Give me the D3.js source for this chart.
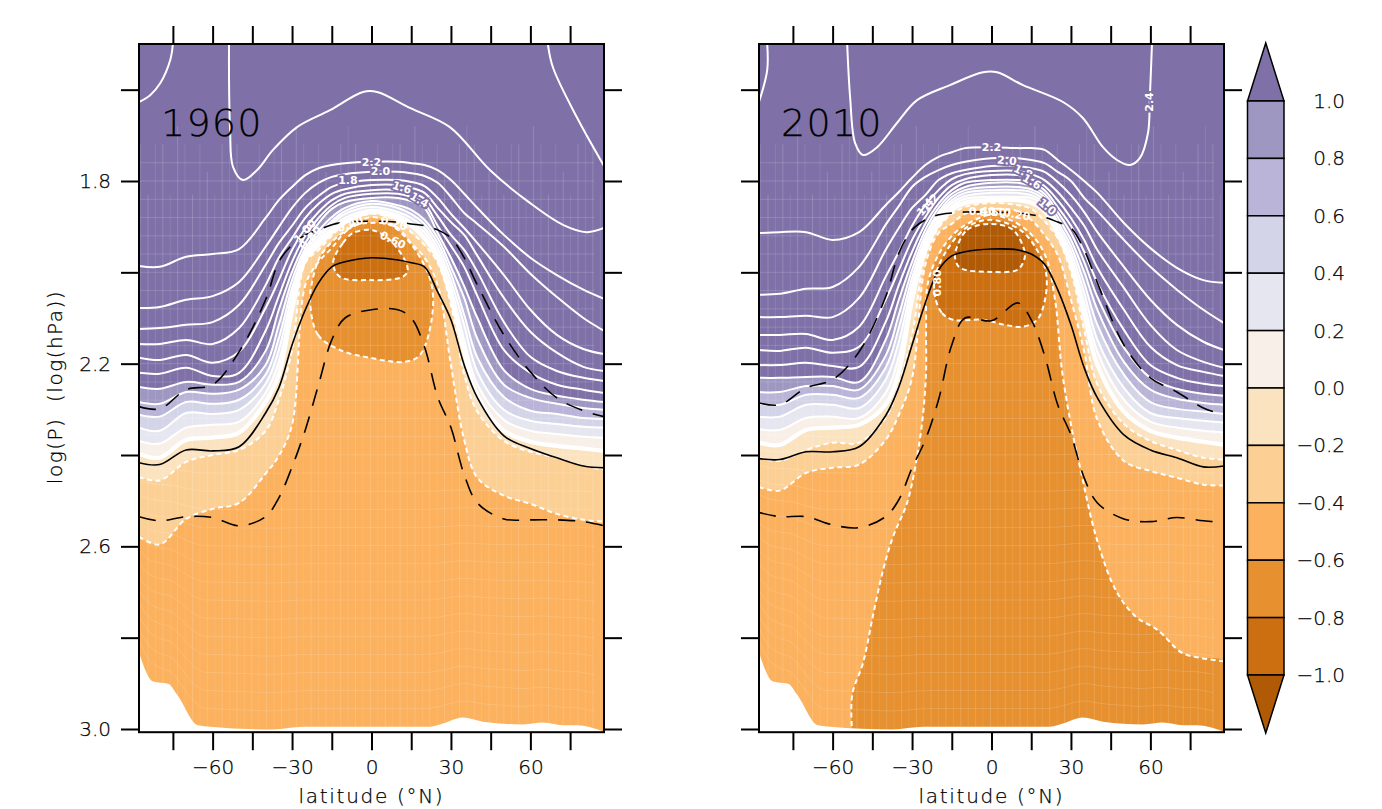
<!DOCTYPE html>
<html lang="en">
<head>
<meta charset="utf-8">
<title>log(P) cross sections 1960 and 2010</title>
<script src="https://d3js.org/d3.v7.min.js"></script>
<style>
    html, body { margin: 0; background: #fff; }
    text { font-family: "DejaVu Sans", sans-serif; font-weight: 200; fill: #000; stroke: #000; stroke-width: 0.25px; }
    .clabel { font-weight: 700; font-size: 11px; fill: #fff; stroke: none; text-anchor: middle; dominant-baseline: central; stroke-width: 3.5px; paint-order: stroke; }
</style>
</head>
<body>
<svg id="chart" width="1382" height="809"></svg>
<script>
// latitude columns shared by all the arch shaped contours
const lats = [-87.8,-80,-70,-60,-50,-40,-35,-30,-25,-20,-15,-10,0,10,15,20,25,30,35,40,50,60,70,80,87.8];

// 1960: log(P) of each contour level at the lats above
const a22 = [1.986,1.988,1.966,1.960,1.949,1.881,1.842,1.813,1.787,1.772,1.765,1.761,1.758,1.758,1.761,1.765,1.776,1.798,1.828,1.859,1.918,1.968,2.006,2.038,2.058];
const a20 = [2.078,2.076,2.060,2.052,2.021,1.944,1.901,1.859,1.826,1.804,1.791,1.785,1.780,1.780,1.783,1.789,1.804,1.835,1.870,1.894,1.944,2.003,2.054,2.100,2.128];
const a18 = [2.124,2.122,2.115,2.109,2.071,1.984,1.936,1.898,1.859,1.833,1.813,1.804,1.798,1.798,1.802,1.811,1.837,1.872,1.903,1.936,2.006,2.082,2.137,2.168,2.179];
const a16 = [2.157,2.157,2.148,2.157,2.122,2.028,1.968,1.925,1.881,1.850,1.828,1.818,1.809,1.809,1.815,1.826,1.859,1.890,1.918,1.964,2.056,2.130,2.176,2.207,2.216];
const a14 = [2.187,2.192,2.181,2.198,2.174,2.078,2.017,1.951,1.903,1.868,1.842,1.828,1.820,1.820,1.826,1.839,1.877,1.918,1.951,1.999,2.109,2.185,2.216,2.231,2.238];
const a12 = [2.220,2.222,2.209,2.227,2.220,2.128,2.052,1.977,1.920,1.881,1.853,1.837,1.828,1.828,1.835,1.850,1.898,1.942,1.988,2.052,2.170,2.220,2.246,2.257,2.264];
const a10 = [2.251,2.255,2.240,2.246,2.240,2.172,2.082,1.999,1.936,1.892,1.861,1.846,1.837,1.837,1.844,1.859,1.914,1.968,2.030,2.100,2.214,2.255,2.270,2.279,2.284];
const a08 = [2.284,2.288,2.262,2.266,2.257,2.203,2.115,2.017,1.947,1.909,1.879,1.859,1.844,1.853,1.863,1.885,1.925,1.988,2.056,2.146,2.246,2.275,2.288,2.297,2.301];
const a06 = [2.312,2.316,2.284,2.288,2.279,2.224,2.144,2.034,1.955,1.918,1.888,1.866,1.850,1.859,1.872,1.894,1.936,2.003,2.093,2.187,2.273,2.303,2.310,2.319,2.321];
const a04 = [2.340,2.347,2.308,2.310,2.301,2.244,2.170,2.049,1.962,1.925,1.894,1.872,1.857,1.868,1.881,1.903,1.947,2.019,2.115,2.218,2.301,2.325,2.332,2.338,2.340];
const a02 = [2.369,2.375,2.340,2.334,2.327,2.264,2.196,2.065,1.966,1.931,1.903,1.881,1.863,1.874,1.890,1.912,1.958,2.034,2.148,2.246,2.323,2.347,2.354,2.360,2.362];
const a00 = [2.397,2.406,2.367,2.362,2.351,2.284,2.224,2.082,1.971,1.940,1.912,1.890,1.868,1.881,1.898,1.925,1.968,2.052,2.174,2.270,2.347,2.371,2.380,2.386,2.391];
const am2 = [2.448,2.456,2.415,2.400,2.389,2.347,2.279,2.170,1.979,1.951,1.920,1.894,1.872,1.888,1.912,1.940,1.979,2.071,2.224,2.305,2.369,2.393,2.406,2.424,2.432];
const am4 = [2.579,2.596,2.540,2.518,2.505,2.441,2.402,2.334,2.028,1.977,1.947,1.912,1.879,1.903,1.936,1.968,2.028,2.203,2.367,2.450,2.489,2.507,2.529,2.542,2.546];
const aSolid = [2.417,2.421,2.389,2.391,2.382,2.308,2.253,2.159,2.082,2.023,1.988,1.977,1.968,1.973,1.979,1.988,2.043,2.104,2.203,2.275,2.358,2.386,2.406,2.424,2.428];
const aDashUp = [2.294,2.299,2.257,2.246,2.174,2.060,1.977,1.940,1.918,1.907,1.896,1.890,1.888,1.890,1.894,1.898,1.907,1.925,1.968,2.028,2.137,2.218,2.275,2.303,2.316];
const aDashLow = [2.535,2.544,2.535,2.537,2.555,2.535,2.494,2.426,2.345,2.246,2.148,2.100,2.082,2.082,2.100,2.163,2.273,2.340,2.443,2.505,2.540,2.542,2.542,2.546,2.555];
// 1960 contours that do not fit the columns: [lat, logP]
const a24 = [[-53.8,1.500],[-53.8,1.579],[-53.4,1.688],[-52.3,1.769],[-48.5,1.798],[-43.2,1.776],[-37.2,1.732],[-28.1,1.682],[-15.7,1.645],[-3.2,1.605],[2.1,1.605],[14.5,1.640],[29.6,1.682],[44.7,1.776],[59.8,1.848],[72.3,1.896],[81.3,1.912],[87.8,1.903]];
const a26w = [[-75,1.500],[-76,1.535],[-79.8,1.586],[-83.6,1.612],[-87.8,1.627]];
const a26e = [[66.6,1.500],[68.5,1.551],[77.5,1.660],[87.8,1.767]];
const am6 = [[-23.2,2.067],[-20.2,2.137],[-11.9,2.170],[-0.6,2.187],[12.6,2.196],[18.3,2.181],[22.8,2.100],[22.5,2.023],[15.7,1.944],[7,1.896],[-0.6,1.892],[-5.5,1.896],[-13,1.923],[-19.4,1.966],[-22.5,2.023]];
const am8 = [[-14.5,1.979],[-10.8,1.936],[-7,1.914],[-0.6,1.907],[3.2,1.914],[8.1,1.936],[13.4,1.984],[13.4,2.001],[10.8,2.012],[-0.6,2.017],[-11.9,2.010]];

// 2010
const b22 = [1.914,1.912,1.912,1.929,1.912,1.853,1.824,1.793,1.765,1.747,1.737,1.728,1.726,1.728,1.728,1.732,1.754,1.776,1.800,1.826,1.892,1.947,1.990,2.017,2.023];
const b20 = [2.049,2.047,2.036,2.032,1.988,1.896,1.855,1.813,1.791,1.776,1.765,1.758,1.750,1.750,1.754,1.761,1.780,1.800,1.837,1.866,1.929,1.988,2.038,2.082,2.111];
const b18 = [2.098,2.098,2.095,2.098,2.056,1.951,1.903,1.859,1.831,1.798,1.783,1.776,1.767,1.767,1.772,1.780,1.802,1.831,1.868,1.912,1.988,2.060,2.115,2.152,2.170];
const b16 = [2.137,2.137,2.135,2.148,2.119,2.010,1.955,1.898,1.853,1.820,1.796,1.785,1.778,1.778,1.785,1.798,1.824,1.859,1.898,1.951,2.034,2.115,2.170,2.196,2.209];
const b14 = [2.170,2.172,2.165,2.176,2.163,2.060,1.995,1.929,1.879,1.837,1.809,1.796,1.787,1.787,1.796,1.811,1.842,1.881,1.929,1.990,2.082,2.163,2.203,2.218,2.227];
const b12 = [2.203,2.203,2.198,2.205,2.207,2.109,2.028,1.955,1.894,1.850,1.820,1.804,1.798,1.798,1.804,1.820,1.857,1.898,1.955,2.023,2.126,2.203,2.231,2.244,2.249];
const b10 = [2.231,2.231,2.229,2.229,2.240,2.148,2.060,1.977,1.907,1.859,1.828,1.813,1.804,1.804,1.811,1.828,1.868,1.914,1.977,2.054,2.165,2.231,2.255,2.266,2.270];
const b08 = [2.262,2.262,2.249,2.249,2.257,2.183,2.093,1.995,1.918,1.868,1.835,1.820,1.813,1.813,1.818,1.835,1.879,1.929,1.999,2.082,2.196,2.257,2.277,2.286,2.290];
const b06 = [2.288,2.290,2.268,2.268,2.275,2.209,2.122,2.012,1.927,1.874,1.842,1.826,1.820,1.820,1.824,1.842,1.890,1.942,2.023,2.115,2.224,2.284,2.299,2.305,2.310];
const b04 = [2.316,2.316,2.290,2.290,2.297,2.235,2.152,2.028,1.936,1.881,1.848,1.833,1.826,1.826,1.831,1.848,1.898,1.955,2.045,2.148,2.253,2.308,2.319,2.325,2.329];
const b02 = [2.343,2.345,2.319,2.316,2.319,2.264,2.185,2.043,1.944,1.888,1.855,1.839,1.835,1.835,1.837,1.855,1.907,1.968,2.067,2.174,2.279,2.327,2.340,2.347,2.351];
const b00 = [2.373,2.378,2.345,2.340,2.334,2.290,2.218,2.060,1.953,1.894,1.863,1.848,1.842,1.842,1.848,1.866,1.916,1.982,2.093,2.203,2.305,2.347,2.362,2.371,2.378];
const bm2 = [2.406,2.413,2.389,2.373,2.373,2.319,2.246,2.137,1.964,1.903,1.872,1.857,1.848,1.853,1.861,1.888,1.925,1.999,2.126,2.246,2.332,2.369,2.389,2.406,2.410];
const bm4 = [2.470,2.478,2.439,2.428,2.421,2.367,2.312,2.231,1.984,1.914,1.894,1.872,1.861,1.866,1.885,1.918,1.962,2.060,2.174,2.323,2.413,2.435,2.450,2.465,2.467];
const bSolid = [2.408,2.410,2.393,2.393,2.382,2.314,2.251,2.159,2.067,1.995,1.964,1.955,1.949,1.951,1.960,1.982,2.038,2.115,2.209,2.275,2.356,2.389,2.406,2.426,2.424];
const bDashUp = [2.286,2.290,2.253,2.235,2.174,2.054,1.958,1.907,1.885,1.874,1.870,1.868,1.868,1.870,1.874,1.879,1.890,1.903,1.951,2.023,2.159,2.231,2.262,2.297,2.312];
const bDashLow = [2.526,2.535,2.535,2.553,2.559,2.535,2.498,2.428,2.367,2.279,2.159,2.100,2.106,2.067,2.104,2.181,2.290,2.356,2.450,2.505,2.540,2.546,2.537,2.544,2.548];
const b24 = [[-54.5,1.500],[-53.4,1.616],[-51.5,1.717],[-48.5,1.743],[-43.2,1.726],[-35.7,1.673],[-28.1,1.623],[-15.7,1.590],[-3.2,1.562],[2.1,1.562],[11.9,1.590],[27,1.627],[34.5,1.662],[42.1,1.726],[47.4,1.754],[52.3,1.765],[56,1.750],[59.1,1.695],[59.8,1.616],[60.6,1.500]];
const b26w = [[-84.7,1.500],[-84.7,1.557],[-87.8,1.627]];
const bm6 = [[-52.6,3.012],[-52.6,2.925],[-48.5,2.855],[-44.7,2.750],[-40.9,2.651],[-37.2,2.579],[-31.9,2.505],[-28.1,2.404],[-25.8,2.308],[-24.7,2.214],[-24.7,2.126],[-24,2.023],[-19.4,1.955],[-13,1.909],[-6.2,1.885],[-0.2,1.874],[7,1.885],[14.5,1.914],[20.2,1.962],[24,2.060],[26.6,2.214],[30.4,2.345],[33.4,2.426],[39.8,2.585],[47.4,2.701],[54.9,2.756],[62.5,2.782],[71.9,2.833],[78.7,2.844],[87.8,2.852]];
const bm8 = [[-21.3,2.054],[-18.7,2.089],[-14.5,2.104],[-3.2,2.104],[5.1,2.115],[11.9,2.119],[17.2,2.104],[20.2,2.060],[20.6,2.001],[17.2,1.951],[10.8,1.907],[-0.6,1.885],[-9.2,1.901],[-16.8,1.951],[-21.3,2.010]];
const bm10 = [[-13,1.944],[-9.2,1.907],[-0.6,1.894],[8.1,1.907],[12.6,1.958],[11.9,1.979],[9.6,1.995],[-0.6,1.999],[-11.9,1.990],[-13.8,1.966]];

// surface pressure, same for both panels
const ground = [[-87.8,2.833],[-82.5,2.896],[-76.8,2.901],[-73.4,2.925],[-65.5,2.992],[-60.9,2.995],[-37.2,3.001],[-25.8,2.995],[22.1,2.995],[27,2.988],[34.5,2.975],[42.1,2.984],[57.2,2.990],[64.7,2.986],[72.3,2.992],[77.5,2.992],[87.8,3.006]];

// contour labels: text, lat, logP, rotation, halo colour
const labels1960 = [["2.2",0,1.759,0,1],["2.0",3.4,1.780,0,1],["1.8",-8.9,1.798,0,1],["1.6",11.5,1.815,18,1],["1.4",18,1.842,30,1],
    ["1.00",-25,1.91,-48,0],["0.80",-23,1.925,-48,0],["0.40",-8,1.895,-20,0],["0.20",8.5,1.893,15,0],["0.60",8,1.930,25,0]];
const labels2010 = [["2.4",59.5,1.627,-90,1],["2.2",0,1.726,0,1],["2.0",5.8,1.756,5,1],["1.8",11.9,1.78,25,1],["1.6",15.2,1.802,30,1],["1.0",21,1.857,40,1],
    ["1.4",-25,1.857,-50,0],["1.2",-23,1.848,-50,0],["0.80",-20.5,2.023,-90,0],["0.60",0.5,1.87,0,0],["0.40",-3.5,1.866,0,0],["0.20",9.5,1.874,10,0]];

// colour bar
const barLevels = [1.0,0.8,0.6,0.4,0.2,0.0,-0.2,-0.4,-0.6,-0.8,-1.0];
const barColors = ["#7f71a8","#9e97c2","#b9b4d8","#d3d4e8","#e6e6f1","#f8f0e8","#fbe3c0","#fcd095","#fbb15d","#e69030","#cc6f10","#b05a05"];

// faint cell edges of the model grid
const meshLevels = [1.76,1.80,1.84,1.88,1.92,1.96,2.0,2.04,2.08,2.12,2.16,2.2,2.24,2.28,2.32,2.36,2.4,2.44,2.48,2.52,2.56,2.6,2.64,2.68,2.72,2.76,2.8,2.84,2.88,2.92,2.96];
const meshTops = [1.72,1.83,1.72,1.72,1.83,1.68,1.72,1.83,1.72,1.78,1.83,1.72,1.68,1.72,1.83,1.78];

let svg = d3.select("#chart");
let bodyTop = 44, y3 = 729;
let y = d3.scaleLinear().domain([1.5, 3.0]).range([bodyTop, y3]);
let groundScale = d3.scaleLinear().domain(ground.map(d => d[0])).range(ground.map(d => d[1]));

function colorBelow(level) {
    return barColors[barLevels.indexOf(level) + 1];
}

function drawPanel(id, left, right, title, colLevels, solid, dashUp, dashLow, thin, closed, labels) {
    let x = d3.scaleLinear().domain([-87.8, 87.8]).range([left, right]);
    let bottom = y(3.007);

    svg.append("clipPath").attr("id", "clip" + id).append("rect")
        .attr("x", left).attr("y", bodyTop).attr("width", right - left).attr("height", bottom - bodyTop);

    let g = svg.append("g").attr("clip-path", "url(#clip" + id + ")");
    let smooth = d3.curveCatmullRom.alpha(0.5);

    g.append("rect").attr("x", left).attr("y", bodyTop).attr("width", right - left).attr("height", bottom - bodyTop)
        .attr("fill", barColors[0]);

    let line = d3.line().x((d, i) => x(lats[i])).y(d => y(d)).curve(smooth);
    let area = d3.area().x((d, i) => x(lats[i])).y0(y(3.05)).y1(d => y(d)).curve(smooth);
    let pairLine = d3.line().x(d => x(d[0])).y(d => y(d[1])).curve(smooth);
    let pairClosed = d3.line().x(d => x(d[0])).y(d => y(d[1])).curve(d3.curveCatmullRomClosed.alpha(0.5));

    // filled bands, top down
    colLevels.filter(d => d[0] <= 1.0).forEach(d => {
        g.append("path").attr("d", area(d[1])).attr("fill", colorBelow(d[0]));
    });
    closed.forEach(d => {
        let path = d.open ? pairLine(d.pts.concat([[87.8, 3.012]])) + "Z" : pairClosed(d.pts);
        g.append("path").attr("d", path).attr("fill", colorBelow(d.level));
    });

    // model grid
    let mesh = g.append("g").attr("stroke", "#fff").attr("stroke-width", 1).attr("fill", "none");
    d3.range(-87.2, 88, 2.8).forEach((lat, i) => {
        mesh.append("line").attr("x1", x(lat)).attr("x2", x(lat))
            .attr("y1", y(meshTops[i % meshTops.length])).attr("y2", y(3.05)).attr("stroke-opacity", i % 2 ? 0.17 : 0.1);
    });
    meshLevels.forEach(lev => {
        let w = Math.pow(Math.max(0, (lev - 2.3) / 0.7), 1.4);
        let pts = d3.range(-87.8, 88, 4).map(lat => [lat, lev + (groundScale(lat) - 3) * w]);
        mesh.append("path").attr("d", pairLine(pts)).attr("stroke-opacity", 0.15);
    });

    // contour lines
    colLevels.forEach(d => {
        let c = g.append("path").attr("d", line(d[1])).attr("fill", "none").attr("stroke", "#fff")
            .attr("stroke-width", d[0] === 0 ? 4.2 : 2);
        if (d[0] < 0) c.attr("stroke-dasharray", "5 3.5");
    });
    thin.forEach(pts => {
        g.append("path").attr("d", pairLine(pts)).attr("fill", "none").attr("stroke", "#fff").attr("stroke-width", 2);
    });
    closed.forEach(d => {
        g.append("path").attr("d", d.open ? pairLine(d.pts) : pairClosed(d.pts)).attr("fill", "none")
            .attr("stroke", "#fff").attr("stroke-width", 2).attr("stroke-dasharray", "5 3.5");
    });

    // black lines
    g.append("path").attr("d", line(solid)).attr("fill", "none").attr("stroke", "#000").attr("stroke-width", 1.6);
    [dashUp, dashLow].forEach(d => {
        g.append("path").attr("d", line(d)).attr("fill", "none").attr("stroke", "#000")
            .attr("stroke-width", 1.6).attr("stroke-dasharray", "17 11");
    });

    // ground
    let groundArea = d3.area().x(d => x(d[0])).y0(y(3.05)).y1(d => y(d[1])).curve(d3.curveMonotoneX);
    g.append("path").attr("d", groundArea(ground)).attr("fill", "#fff");

    labels.forEach(d => {
        let t = g.append("text").attr("class", "clabel").text(d[0])
            .attr("transform", "translate(" + x(d[1]) + "," + y(d[2]) + ") rotate(" + d[3] + ")");
        if (d[4]) t.style("stroke", barColors[0]);
    });

    g.append("text").text(title).attr("x", left + 22).attr("y", 136)
        .attr("font-size", 38).attr("letter-spacing", 1.2);

    // frame and axes
    svg.append("rect").attr("x", left).attr("y", bodyTop).attr("width", right - left).attr("height", bottom - bodyTop)
        .attr("fill", "none").attr("stroke", "#000").attr("stroke-width", 2);

    let xt = d3.range(-75, 76, 15);
    let xlab = d => (d % 30 === 0 && Math.abs(d) < 75) ? String(d).replace("-", "\u2212") : "";
    let axB = svg.append("g").attr("transform", "translate(0," + bottom + ")")
        .call(d3.axisBottom(x).tickValues(xt).tickSize(18).tickPadding(10).tickFormat(xlab));
    let axT = svg.append("g").attr("transform", "translate(0," + bodyTop + ")")
        .call(d3.axisTop(x).tickValues(xt).tickSize(18).tickFormat(""));
    let yt = d3.range(1.6, 3.01, 0.2);
    let ylab = d => { let v = Math.round(d * 10); return ((v - 18) % 4 === 0) ? d3.format(".1f")(d) : ""; };
    let axL = svg.append("g").attr("transform", "translate(" + left + ",0)")
        .call(d3.axisLeft(y).tickValues(yt).tickSize(18).tickPadding(10).tickFormat(id === "a" ? ylab : ""));
    let axR = svg.append("g").attr("transform", "translate(" + right + ",0)")
        .call(d3.axisRight(y).tickValues(yt).tickSize(18).tickFormat(""));
    [axB, axT, axL, axR].forEach(a => {
        a.select(".domain").remove();
        a.selectAll("line").attr("stroke", "#000").attr("stroke-width", 2);
        a.selectAll("text").attr("font-size", 20).style("font-family", '"DejaVu Sans", sans-serif').style("font-weight", 200).attr("fill", "#000");
    });

    svg.append("text").text("latitude (\u00b0N)").attr("text-anchor", "middle")
        .attr("x", (left + right) / 2).attr("y", 803).attr("font-size", 20).attr("letter-spacing", 1.7);
}

drawPanel("a", 139, 604, "1960",
    [[2.2,a22],[2.0,a20],[1.8,a18],[1.6,a16],[1.4,a14],[1.2,a12],[1.0,a10],[0.8,a08],[0.6,a06],[0.4,a04],[0.2,a02],[0,a00],[-0.2,am2],[-0.4,am4]],
    aSolid, aDashUp, aDashLow, [a24, a26w, a26e],
    [{level: -0.6, pts: am6}, {level: -0.8, pts: am8}], labels1960);

drawPanel("b", 759, 1224, "2010",
    [[2.2,b22],[2.0,b20],[1.8,b18],[1.6,b16],[1.4,b14],[1.2,b12],[1.0,b10],[0.8,b08],[0.6,b06],[0.4,b04],[0.2,b02],[0,b00],[-0.2,bm2],[-0.4,bm4]],
    bSolid, bDashUp, bDashLow, [b24, b26w],
    [{level: -0.6, pts: bm6, open: true}, {level: -0.8, pts: bm8}, {level: -1.0, pts: bm10}], labels2010);

svg.append("text").text("log(P)  (log(hPa))").attr("text-anchor", "middle").attr("xml:space", "preserve")
    .attr("transform", "translate(62,387) rotate(-90)").attr("font-size", 20).attr("letter-spacing", 1.5);

// colour bar
let cy = d3.scaleLinear().domain([1.0, -1.0]).range([101, 675]);
let bx0 = 1247.5, bx1 = 1284, tip = 58;
let cb = svg.append("g").attr("stroke", "#000").attr("stroke-width", 1.5);
cb.append("path").attr("d", d3.line()([[bx0, cy(1)], [(bx0 + bx1) / 2, cy(1) - tip], [bx1, cy(1)]]) + "Z").attr("fill", barColors[0]);
barLevels.slice(0, -1).forEach((lev, i) => {
    cb.append("rect").attr("x", bx0).attr("width", bx1 - bx0).attr("y", cy(lev))
        .attr("height", cy(barLevels[i + 1]) - cy(lev)).attr("fill", barColors[i + 1]);
});
cb.append("path").attr("d", d3.line()([[bx0, cy(-1)], [(bx0 + bx1) / 2, cy(-1) + tip], [bx1, cy(-1)]]) + "Z").attr("fill", barColors[11]);
barLevels.forEach(lev => {
    svg.append("text").text(d3.format(".1f")(lev).replace("-", "\u2212")).attr("text-anchor", "end")
        .attr("x", 1345).attr("y", cy(lev) + 7).attr("font-size", 20);
});
</script>
</body>
</html>
